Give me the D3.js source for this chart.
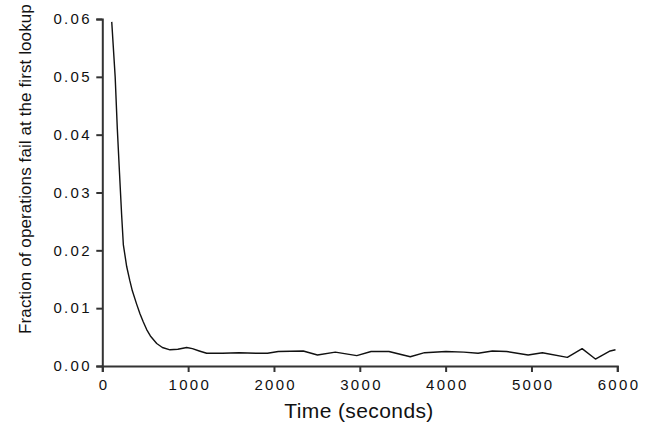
<!DOCTYPE html>
<html>
<head>
<meta charset="utf-8">
<script src="https://cdn.jsdelivr.net/npm/d3@7"></script>
<style>
  body { margin: 0; background: #fff; }
  svg { display: block; font-family: "Liberation Sans", Arial, sans-serif; }
  .axis path, .axis line { stroke: #333; stroke-width: 2; }
  .axis text { font-size: 15px; fill: #111; letter-spacing: 2.3px; font-family: "Liberation Sans", Arial, sans-serif; }
</style>
</head>
<body>
<svg id="chart"></svg>
<script>
// time in seconds
var times = [110, 150, 175, 200, 225, 245, 284, 320, 350, 400, 440, 478, 517, 560, 634, 700, 789, 880, 983, 1050,
  1130, 1216, 1400, 1593, 1800, 1925, 2050, 2341, 2507, 2715, 2965, 3131, 3339, 3588, 3755, 4004, 4212, 4378,
  4545, 4711, 4961, 5127, 5418, 5590, 5745, 5917, 5979];
// fraction of operations failing at the first lookup
var fractions = [0.0595, 0.0500, 0.0410, 0.0335, 0.0262, 0.0210, 0.0172, 0.0148, 0.0130, 0.0107, 0.0090, 0.0076,
  0.0063, 0.0052, 0.0039, 0.0032, 0.0028, 0.0029, 0.0032, 0.0030, 0.0026, 0.0022, 0.0022, 0.0023, 0.0022, 0.0022,
  0.0025, 0.0026, 0.0019, 0.0024, 0.0018, 0.0025, 0.0025, 0.0016, 0.0023, 0.0025, 0.0024, 0.0022, 0.0026, 0.0025,
  0.0019, 0.0023, 0.0015, 0.0030, 0.0012, 0.0026, 0.0028];
var xTicks = [0, 1000, 2000, 3000, 4000, 5000, 6000];
var yTicks = [0, 0.01, 0.02, 0.03, 0.04, 0.05, 0.06];

var svgWidth = 648, svgHeight = 426;
var x = d3.scaleLinear().domain([0, 6000]).range([102.3, 617.3]);
var y = d3.scaleLinear().domain([0, 0.06]).range([366, 19]);

var svg = d3.select("#chart")
  .attr("width", svgWidth)
  .attr("height", svgHeight);

var data = times.map(function(t, i) { return {t: t, v: fractions[i]}; });

var line = d3.line()
  .x(function(d) { return x(d.t); })
  .y(function(d) { return y(d.v); });

svg.append("path")
  .datum(data)
  .attr("fill", "none")
  .attr("stroke", "#111")
  .attr("stroke-width", 1.4)
  .attr("stroke-linejoin", "round")
  .attr("d", line);

var xAxis = d3.axisBottom(x).tickValues(xTicks).tickFormat(d3.format("d"))
  .tickSize(6).tickPadding(7);
var yAxis = d3.axisLeft(y).tickValues(yTicks).tickFormat(d3.format(".2f"))
  .tickSize(6).tickPadding(6);

svg.append("g")
  .attr("class", "x axis")
  .attr("transform", "translate(0,366)")
  .call(xAxis)
  .selectAll("text")
  .attr("dx", "1.2px");

svg.append("g")
  .attr("class", "y axis")
  .attr("transform", "translate(102.3,0)")
  .call(yAxis)
  .selectAll("text")
  .attr("dx", "1.5px");

svg.append("text")
  .attr("x", 359)
  .attr("y", 418)
  .attr("text-anchor", "middle")
  .attr("fill", "#111")
  .style("font-size", "21px")
  .style("letter-spacing", "0.4px")
  .text("Time (seconds)");

svg.append("text")
  .attr("transform", "translate(31,169) rotate(-90)")
  .attr("text-anchor", "middle")
  .attr("fill", "#111")
  .style("font-size", "17px")
  .style("letter-spacing", "0.1px")
  .text("Fraction of operations fail at the first lookup");
</script>
</body>
</html>
